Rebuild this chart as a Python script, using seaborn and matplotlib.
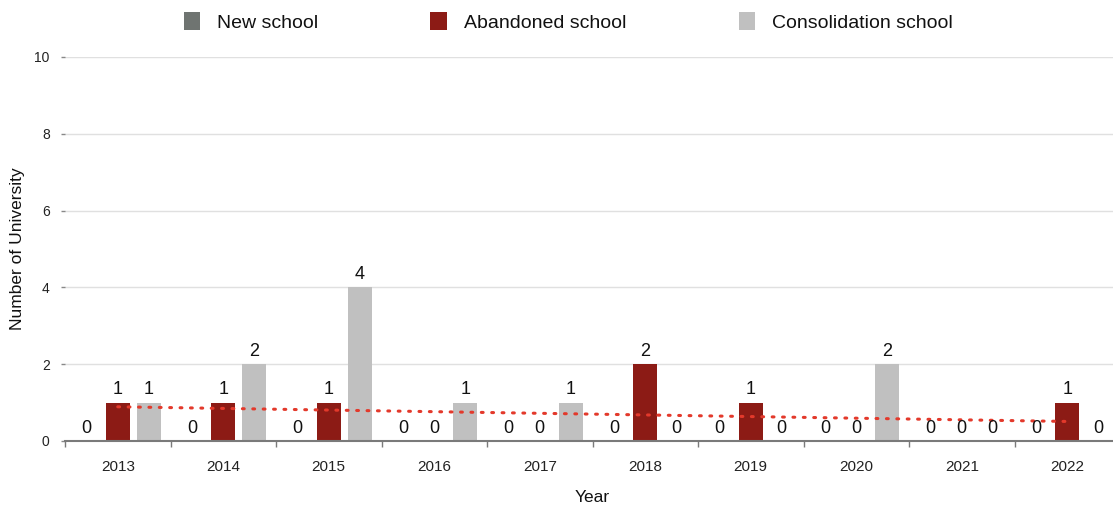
import numpy as np
import pandas as pd
import matplotlib
matplotlib.use("Agg")
import matplotlib.pyplot as plt
import seaborn as sns

# data
years = ["2013", "2014", "2015", "2016", "2017", "2018", "2019", "2020", "2021", "2022"]
new_school = [0, 0, 0, 0, 0, 0, 0, 0, 0, 0]
abandoned_school = [1, 1, 1, 0, 0, 2, 1, 0, 0, 1]
consolidation_school = [1, 2, 4, 1, 1, 0, 0, 2, 0, 0]
series_names = ["New school", "Abandoned school", "Consolidation school"]
y_ticks = [0, 2, 4, 6, 8, 10]

colors = ["#6f7471", "#8c1b15", "#c0c0c0"]
trend_color = "#e3392b"

df = pd.DataFrame({
    "Year": years * 3,
    "Count": new_school + abandoned_school + consolidation_school,
    "Type": np.repeat(series_names, len(years)),
})

sns.set_style("white")
plt.rcParams["font.family"] = ["Liberation Sans", "DejaVu Sans"]

W, H = 1113, 509
fig = plt.figure(figsize=(W / 100, H / 100), dpi=100)
ax = fig.add_axes([65 / W, 68 / H, 1055 / W, 384 / H])

sns.barplot(
    data=df,
    x="Year",
    y="Count",
    hue="Type",
    palette=colors,
    saturation=1,
    width=0.88,
    gap=0.22,
    linewidth=0,
    ax=ax,
)

for container in ax.containers:
    ax.bar_label(container, padding=3, fontsize=13, color="#111111")

# linear trend of abandoned schools
sns.regplot(
    x=np.arange(len(years)),
    y=abandoned_school,
    scatter=False,
    ci=None,
    color=trend_color,
    ax=ax,
    line_kws=dict(linestyle=(0, (0.6, 2.8)), linewidth=2.2,
                  dash_capstyle="round"),
)

ax.set_xlim(-0.5, len(years) - 0.5)
ax.set_ylim(0, 10)
ax.set_yticks(y_ticks)
ax.set_xticks(range(len(years)))
ax.set_xticklabels(years)
ax.set_xticks(np.arange(-0.5, len(years), 1), minor=True)

ax.yaxis.grid(True, color="#e0e0e0", linewidth=1)
ax.set_axisbelow(True)

for side in ["top", "right", "left"]:
    ax.spines[side].set_visible(False)
ax.spines["bottom"].set_color("#7a7a7a")
ax.spines["bottom"].set_linewidth(1.5)

ax.tick_params(axis="x", which="major", length=0, pad=14,
               labelsize=11, labelcolor="#222222")
ax.tick_params(axis="x", which="minor", bottom=True, length=4,
               width=1, color="#7a7a7a")
ax.tick_params(axis="y", left=True, length=3, width=1, color="#888888",
               pad=8, labelsize=10, labelcolor="#222222")

ax.set_xlabel("Year", fontsize=12.5, color="#111111")
ax.set_ylabel("Number of University", fontsize=12.5, color="#111111")
ax.xaxis.set_label_coords(0.5, -0.127)
ax.yaxis.set_label_coords(-0.038, 0.5)

sns.move_legend(
    ax,
    "center",
    bbox_to_anchor=(568 / W, 1 - 22 / H),
    bbox_transform=fig.transFigure,
    ncol=3,
    frameon=False,
    title=None,
    fontsize=14,
    labelcolor="#111111",
    handlelength=0.85,
    handleheight=1.0,
    handletextpad=0.85,
    columnspacing=5.8,
)

fig.savefig("out.png", dpi=100)
